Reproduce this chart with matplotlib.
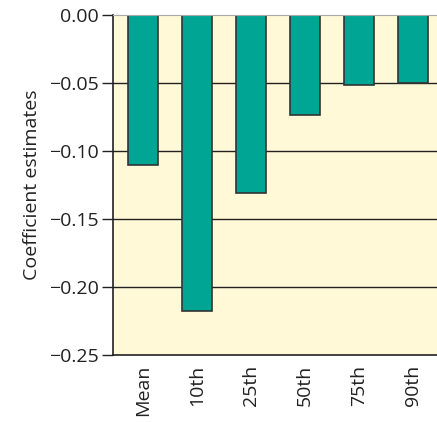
import numpy as np
import matplotlib.pyplot as plt

plt.rcParams['font.family'] = ['Open Sans', 'DejaVu Sans']

categories = ['Mean', '10th', '25th', '50th', '75th', '90th']
estimates = [-0.110, -0.218, -0.131, -0.0735, -0.0515, -0.050]
yticks = [0.00, -0.05, -0.10, -0.15, -0.20, -0.25]

fig = plt.figure(figsize=(4.37, 4.22), dpi=100)
ax = fig.add_axes([113 / 437, 67 / 422, 324 / 437, 340 / 422])
ax.set_facecolor('#fff9d8')

x = np.arange(len(categories))
for yv in yticks[1:-1]:
    ax.axhline(yv, color='#222222', linewidth=1.0, zorder=1)
ax.bar(x, estimates, width=0.56, color='#00a693', edgecolor='#333333',
       linewidth=1.2, zorder=2)

ax.set_xlim(-0.556, 5.444)
ax.set_ylim(-0.25, 0.0)
ax.set_yticks(yticks)
ax.set_yticklabels([f'{v:.2f}'.replace('-', '\u2212') for v in yticks])
ax.set_xticks(x)
ax.set_xticklabels(categories, rotation=90)
ax.tick_params(axis='x', length=0, pad=7, labelsize=14, colors='#222222')
ax.tick_params(axis='y', length=8, width=1.0, pad=2, labelsize=14,
               colors='#222222')
ax.set_ylabel('Coefficient estimates', fontsize=14, color='#222222',
              labelpad=6)

ax.spines['right'].set_visible(False)
ax.spines['top'].set_color('#aaaaaa')
ax.spines['left'].set_color('#222222')
ax.spines['bottom'].set_color('#222222')
ax.spines['left'].set_linewidth(1.2)
ax.spines['bottom'].set_linewidth(1.2)

fig.savefig('out.png', dpi=100)
